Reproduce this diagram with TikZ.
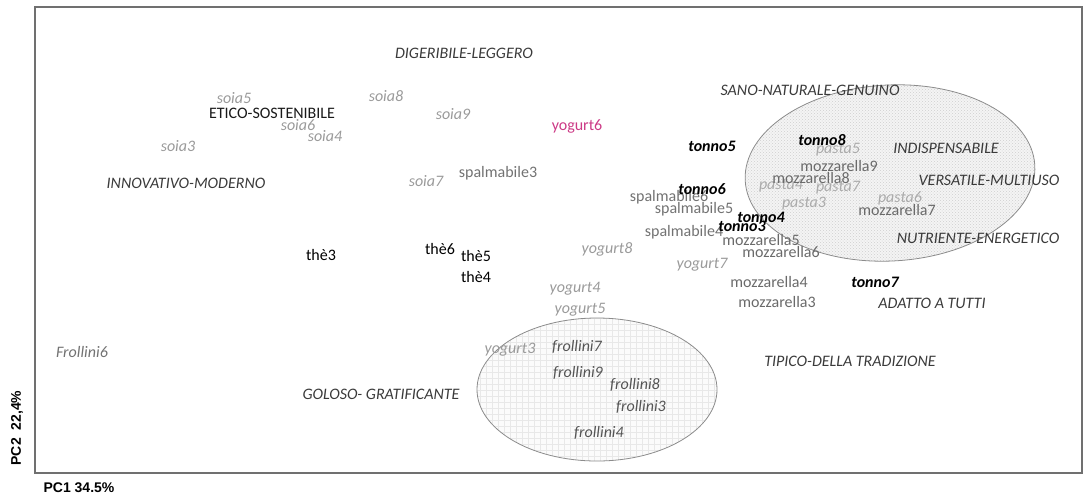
\documentclass[tikz,border=0pt]{standalone}
\usepackage{fontspec}
\setmainfont{Carlito}
\newfontfamily\arialfont{Liberation Sans}
\usetikzlibrary{patterns}
\definecolor{attrcol}{HTML}{3A3A3A}
\definecolor{soiacol}{HTML}{9A9A9A}
\definecolor{pastacol}{HTML}{ABABAB}
\definecolor{mozzcol}{HTML}{6A6A6A}
\definecolor{spalcol}{HTML}{727272}
\definecolor{frolcol}{HTML}{555555}
\definecolor{yog6col}{HTML}{CC3A86}
\definecolor{framecol}{HTML}{707070}
\definecolor{ellcol}{HTML}{8C8C8C}
\tikzset{
  lbl/.style={inner sep=0pt, font=\fontsize{16}{18}\selectfont},
  attrlbl/.style={lbl, text=attrcol, font=\fontsize{16}{18}\selectfont\itshape},
  plainlbl/.style={lbl, text=black!90},
  soialbl/.style={lbl, text=soiacol, font=\fontsize{16}{18}\selectfont\itshape},
  yoglbl/.style={lbl, text=soiacol, font=\fontsize{16}{18}\selectfont\itshape},
  pastalbl/.style={lbl, text=pastacol, font=\fontsize{16}{18}\selectfont\itshape},
  mozzlbl/.style={lbl, text=mozzcol},
  spallbl/.style={lbl, text=spalcol},
  tonnolbl/.style={lbl, text=black, font=\fontsize{16}{18}\selectfont\bfseries\itshape},
  thelbl/.style={lbl, text=black},
  frollbl/.style={lbl, text=frolcol, font=\fontsize{16}{18}\selectfont\itshape},
  axislbl/.style={inner sep=0pt, text=black, font=\arialfont\bfseries\fontsize{14}{16}\selectfont},
}
\begin{document}
\begin{tikzpicture}[x=1pt,y=-1pt]
\useasboundingbox (0,0) rectangle (1086,496);
% frame
\draw[framecol, line width=1.4pt] (35,7) rectangle (1082,473);
% right ellipse (dotted)
\fill[gray!9, rotate around={3:(890,173)}] (890,173) ellipse [x radius=145, y radius=88];
\fill[pattern=crosshatch dots, pattern color=gray!38, rotate around={3:(890,173)}] (890,173) ellipse [x radius=145, y radius=88];
\draw[ellcol, line width=0.8pt, rotate around={3:(890,173)}] (890,173) ellipse [x radius=145, y radius=88];
% bottom ellipse (grid)
\begin{scope}
\clip (597,389.5) ellipse [x radius=120, y radius=71.5];
\fill[gray!3] (470,310) rectangle (725,470);
\draw[gray!18, line width=0.4pt, step=6pt] (470,310) grid (725,470);
\end{scope}
\draw[ellcol, line width=0.8pt] (597,389.5) ellipse [x radius=120, y radius=71.5];
% attribute labels
\node[attrlbl] (digeribile) at (464,53) {DIGERIBILE-LEGGERO};
\node[attrlbl] (sano) at (810,90) {SANO-NATURALE-GENUINO};
\node[plainlbl] (etico) at (272,113) {ETICO-SOSTENIBILE};
\node[attrlbl] (innovativo) at (186,183) {INNOVATIVO-MODERNO};
\node[attrlbl] (indispensabile) at (946,148) {INDISPENSABILE};
\node[attrlbl] (versatile) at (989,180) {VERSATILE-MULTIUSO};
\node[attrlbl] (nutriente) at (978,238) {NUTRIENTE-ENERGETICO};
\node[attrlbl] (adatto) at (932,303) {ADATTO A TUTTI};
\node[attrlbl] (tipico) at (850,361) {TIPICO-DELLA TRADIZIONE};
\node[attrlbl] (goloso) at (381,394) {GOLOSO- GRATIFICANTE};
% soia
\node[soialbl] (soia5) at (234,98) {soia5};
\node[soialbl] (soia8) at (386,96) {soia8};
\node[soialbl] (soia9) at (453,114) {soia9};
\node[soialbl] (soia6) at (298,125) {soia6};
\node[soialbl] (soia4) at (325,136) {soia4};
\node[soialbl] (soia3) at (178,146) {soia3};
\node[soialbl] (soia7) at (426,181) {soia7};
% yogurt
\node[lbl, text=yog6col] (yogurt6) at (577,126) {yogurt6};
\node[yoglbl] (yogurt8) at (607,249) {yogurt8};
\node[yoglbl] (yogurt7) at (702,265) {yogurt7};
\node[yoglbl] (yogurt4) at (575,289) {yogurt4};
\node[yoglbl] (yogurt5) at (580,310) {yogurt5};
\node[yoglbl] (yogurt3) at (510,350) {yogurt3};
% spalmabile
\node[spallbl] (spalmabile3) at (498,173) {spalmabile3};
\node[spallbl] (spalmabile6) at (669,197) {spalmabile6};
\node[spallbl] (spalmabile5) at (694,209) {spalmabile5};
\node[spallbl] (spalmabile4) at (684,232) {spalmabile4};
% pasta
\node[pastalbl] (pasta5) at (838,150) {pasta5};
\node[pastalbl] (pasta4) at (781,186) {pasta4};
\node[pastalbl] (pasta7) at (838,188) {pasta7};
\node[pastalbl] (pasta3) at (804,204) {pasta3};
\node[pastalbl] (pasta6) at (900,198) {pasta6};
% mozzarella
\node[mozzlbl] (mozzarella9) at (839,166) {mozzarella9};
\node[mozzlbl] (mozzarella8) at (811,178) {mozzarella8};
\node[mozzlbl] (mozzarella7) at (897,210) {mozzarella7};
\node[mozzlbl] (mozzarella5) at (761,240) {mozzarella5};
\node[mozzlbl] (mozzarella6) at (781,252) {mozzarella6};
\node[mozzlbl] (mozzarella4) at (769,282) {mozzarella4};
\node[mozzlbl] (mozzarella3) at (777,302) {mozzarella3};
% tonno
\node[tonnolbl] (tonno5) at (712,146) {tonno5};
\node[tonnolbl] (tonno8) at (822,140) {tonno8};
\node[tonnolbl] (tonno6) at (702,189) {tonno6};
\node[tonnolbl] (tonno4) at (761,217) {tonno4};
\node[tonnolbl] (tonno3) at (742,226) {tonno3};
\node[tonnolbl] (tonno7) at (875,282) {tonno7};
% the
\node[thelbl] (the3) at (321,255) {thè3};
\node[thelbl] (the6) at (440,249) {thè6};
\node[thelbl] (the5) at (476,256) {thè5};
\node[thelbl] (the4) at (476,277) {thè4};
% frollini
\node[frollbl] (frollini7) at (577,347) {frollini7};
\node[frollbl] (frollini9) at (578,373) {frollini9};
\node[frollbl] (frollini8) at (635,385) {frollini8};
\node[frollbl] (frollini3) at (641,407) {frollini3};
\node[frollbl] (frollini4) at (599,433) {frollini4};
\node[frollbl, text=spalcol] (frollini6) at (82,352) {Frollini6};
% axis labels
\node[axislbl, rotate=90] (pc2) at (17,428) {PC2\ \ 22,4\%};
\node[axislbl] (pc1) at (79,488) {PC1 34.5\%};
\end{tikzpicture}
\end{document}
